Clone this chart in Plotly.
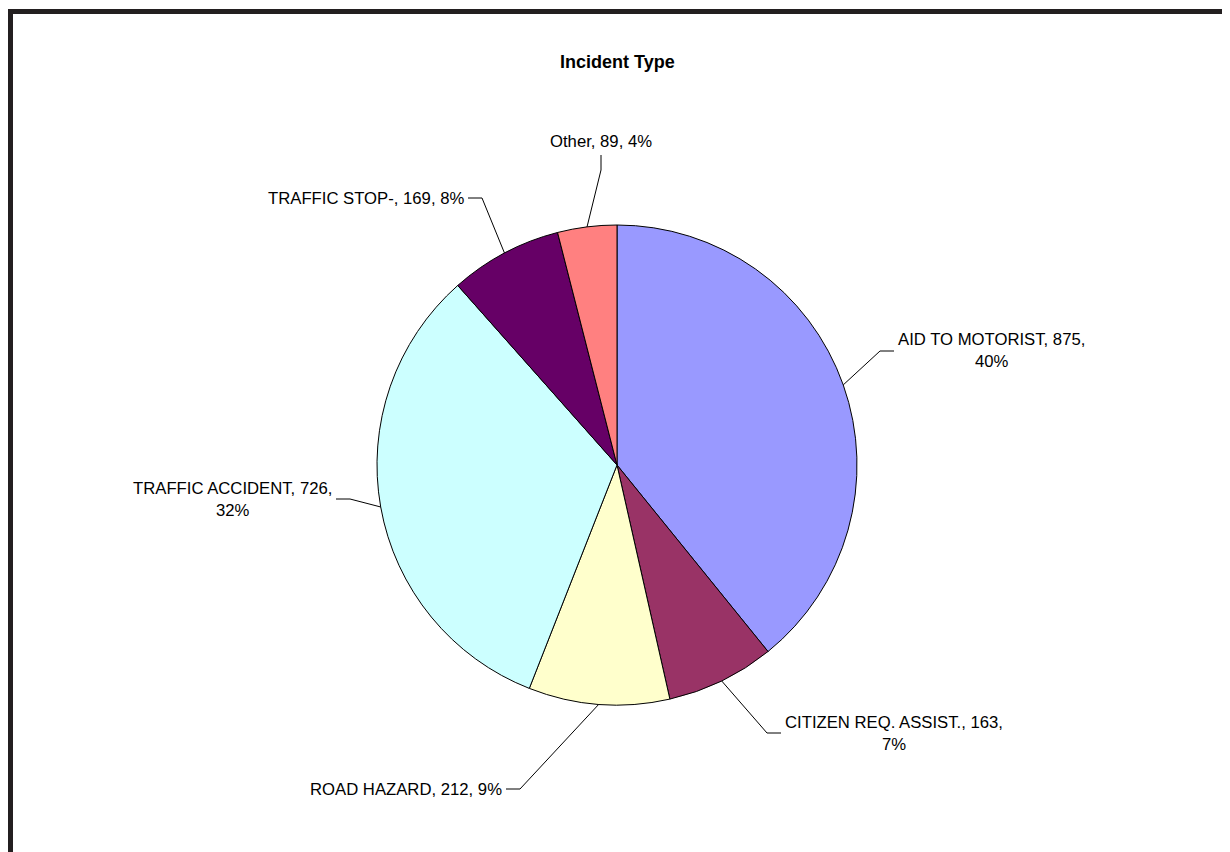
import math
import plotly.graph_objects as go

# ---- data ----
categories = ["AID TO MOTORIST", "CITIZEN REQ. ASSIST.", "ROAD HAZARD",
              "TRAFFIC ACCIDENT", "TRAFFIC STOP-", "Other"]
values = [875, 163, 212, 726, 169, 89]
pct_labels = [40, 7, 9, 32, 8, 4]
colors = ["#9999FF", "#993366", "#FFFFCC", "#CCFFFF", "#660066", "#FF8080"]

# ---- layout (screen pixels; page body has an 8px margin) ----
OFF = 8
W, H = 1230 - OFF, 852 - OFF
CX, CY, R = 617, 465, 240
FONT = "Liberation Sans, Arial, sans-serif"
FS = 16.7

# label layout: elbow point and side; brk = put percent on 2nd line
label_layout = [
    dict(elbow=(880, 351), side="right", brk=True),
    dict(elbow=(767, 733), side="right", brk=True),
    dict(elbow=(520, 789), side="left", brk=False),
    dict(elbow=(350, 499), side="left", brk=True),
    dict(elbow=(482, 198), side="left", brk=False),
    dict(elbow=(601, 170), side="top", brk=False),
]


def px(x):
    return (x - OFF) / W


def py(y):
    return 1 - (y - OFF) / H


fig = go.Figure()
fig.add_trace(go.Pie(
    labels=categories, values=values, sort=False, direction="clockwise",
    rotation=0, marker=dict(colors=colors, line=dict(color="#000000", width=1)),
    textinfo="none", showlegend=False,
    domain=dict(x=[px(CX - R), px(CX + R)], y=[py(CY + R), py(CY - R)]),
))

total = sum(values)
shapes = []
annotations = []
cum = 0
for cat, v, p, lay in zip(categories, values, pct_labels, label_layout):
    mid = (cum + v / 2) / total * 2 * math.pi
    cum += v
    sx = CX + R * math.sin(mid)
    sy = CY - R * math.cos(mid)
    ex, ey = lay["elbow"]
    sep = "<br>" if lay["brk"] else " "
    text = f"{cat}, {v},{sep}{p}%"
    if lay["side"] == "right":
        hx, hy = ex + 14, ey
        ann = dict(x=px(hx + 2), y=py(ey), xanchor="left", yanchor="middle")
    elif lay["side"] == "left":
        hx, hy = ex - 14, ey
        ann = dict(x=px(hx - 2), y=py(ey), xanchor="right", yanchor="middle")
    else:
        hx, hy = ex, ey - 15
        ann = dict(x=px(ex), y=py(hy - 2), xanchor="center", yanchor="bottom")
    shapes.append(dict(type="path", xref="paper", yref="paper",
                       path=f"M {px(sx)} {py(sy)} L {px(ex)} {py(ey)} L {px(hx)} {py(hy)}",
                       line=dict(color="#000000", width=1)))
    annotations.append(dict(xref="paper", yref="paper", text=text, showarrow=False,
                            align="center", font=dict(family=FONT, size=FS, color="#000000"),
                            **ann))

annotations.append(dict(xref="paper", yref="paper", x=px(617), y=py(62),
                        xanchor="center", yanchor="middle", showarrow=False,
                        text="<b>Incident Type</b>",
                        font=dict(family=FONT, size=18, color="#000000")))

# outer frame
shapes.append(dict(type="rect", xref="paper", yref="paper",
                   x0=px(10.5), y0=-0.1, x1=1.1, y1=py(11.5),
                   line=dict(color="#231f20", width=5)))

fig.update_layout(width=W, height=H, autosize=False,
                  margin=dict(l=0, r=0, t=0, b=0),
                  paper_bgcolor="white", plot_bgcolor="white",
                  shapes=shapes, annotations=annotations)

fig.write_html("out.html")
